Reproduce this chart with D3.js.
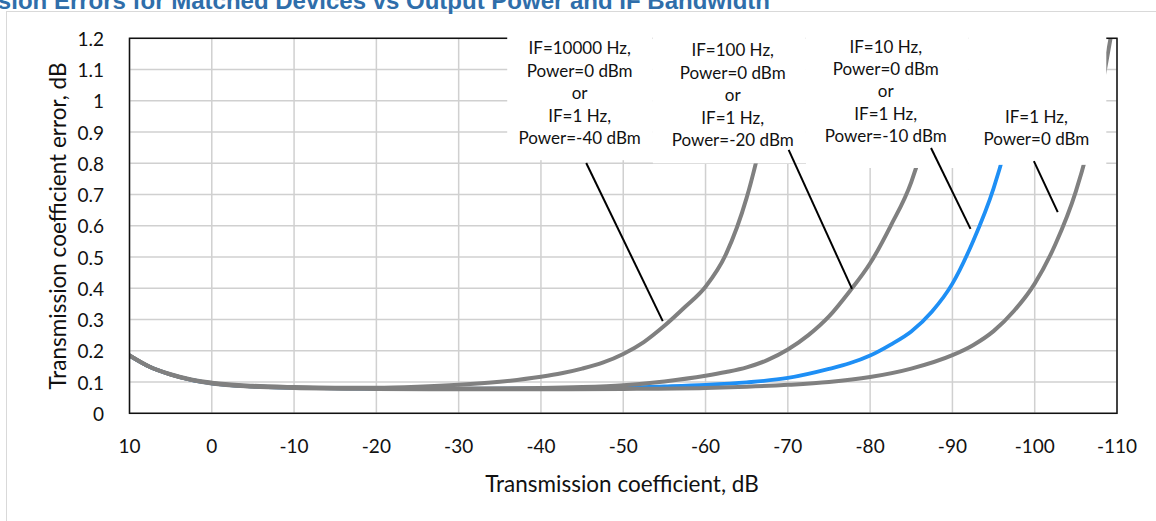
<!DOCTYPE html>
<html>
<head>
<meta charset="utf-8">
<script src="https://cdn.jsdelivr.net/npm/d3@7"></script>
<style>
  html, body { margin: 0; padding: 0; background: #fff; }
  svg { display: block; font-family: Lato, "Open Sans", sans-serif; }
</style>
</head>
<body>
<svg id="chart" width="1156" height="521"></svg>
<script>
// ── Data ────────────────────────────────────────────────────────────────────

const title = "Transmission Errors for Matched Devices vs Output Power and IF Bandwidth";
const xLabel = "Transmission coefficient, dB";
const yLabel = "Transmission coefficient error, dB";

const xTicks = [10, 0, -10, -20, -30, -40, -50, -60, -70, -80, -90, -100, -110];
const yTicks = [0, 0.1, 0.2, 0.3, 0.4, 0.5, 0.6, 0.7, 0.8, 0.9, 1, 1.1, 1.2];

// [transmission coefficient dB, error dB]
const curveIF10000 = [[10,.185],[7.5,.148],[5,.125],[2.5,.108],[0,.098],[-5,.088],[-10,.084],[-15,.082],
  [-20,.082],[-25,.085],[-30,.091],[-35,.101],[-40,.117],[-42.5,.128],[-45,.143],[-47.5,.162],[-50,.19],
  [-52.5,.228],[-55,.28],[-57.5,.34],[-60,.405],[-62.5,.51],[-65,.69],[-67.5,.96],[-70,1.3]];

const curveIF100 = [[10,.185],[7.5,.148],[5,.124],[2.5,.107],[0,.096],[-5,.086],[-10,.082],[-15,.08],
  [-20,.079],[-30,.079],[-40,.081],[-45,.084],[-50,.09],[-55,.102],[-60,.12],[-62.5,.132],[-65,.147],
  [-67.5,.17],[-70,.204],[-72.5,.25],[-75,.31],[-77.5,.39],[-80,.48],[-82.5,.60],[-85,.74],[-87.5,.97],[-90,1.3]];

const curveIF10 = [[10,.185],[7.5,.148],[5,.124],[2.5,.107],[0,.096],[-5,.086],[-10,.082],[-20,.079],
  [-30,.078],[-40,.079],[-50,.082],[-55,.086],[-60,.091],[-65,.099],[-70,.113],[-75,.142],[-77.5,.16],
  [-80,.185],[-82.5,.22],[-85,.262],[-87.5,.325],[-90,.415],[-92.5,.55],[-95,.72],[-97.5,.96],[-100,1.3]];

const curveIF1 = [[10,.185],[7.5,.148],[5,.124],[2.5,.107],[0,.095],[-5,.085],[-10,.081],[-20,.078],
  [-30,.077],[-40,.077],[-50,.078],[-60,.081],[-65,.085],[-70,.091],[-75,.1],[-80,.116],[-85,.143],
  [-90,.186],[-92.5,.218],[-95,.263],[-97.5,.328],[-100,.415],[-102.5,.54],[-105,.71],[-107.5,.96],[-110,1.32]];

// callouts: text lines, centre (dB), first-line level, box [dB from, dB to, top, bottom], leader
const calloutLines = [
  ["IF=10000 Hz,", "Power=0 dBm", "or", "IF=1 Hz,", "Power=-40 dBm"],
  ["IF=100 Hz,", "Power=0 dBm", "or", "IF=1 Hz,", "Power=-20 dBm"],
  ["IF=10 Hz,", "Power=0 dBm", "or", "IF=1 Hz,", "Power=-10 dBm"],
  ["IF=1 Hz,", "Power=0 dBm"]
];
const calloutAnchor = [[-44.7, 1.169], [-63.3, 1.163], [-81.9, 1.175], [-100.2, 0.951]];
const calloutBox = [[-35.9, -53.6, 1.235, 0.81], [-53.6, -72.2, 1.235, 0.80],
                    [-72.2, -91.9, 1.235, 0.785], [-91.9, -108.7, 1.235, 0.795]];
const calloutLeader = [[[-45.5, 0.801], [-54.8, 0.295]], [[-70.1, 0.843], [-77.8, 0.398]],
                       [[-87.4, 0.849], [-92.2, 0.59]], [[-99.9, 0.807], [-102.8, 0.644]]];

// ── Layout ──────────────────────────────────────────────────────────────────

const svg = d3.select("#chart");
const plot = { left: 129.5, right: 1117, top: 38.3, bottom: 413.3 };

const x = d3.scaleLinear().domain([10, -110]).range([plot.left, plot.right]);
const y = d3.scaleLinear().domain([0, 1.2]).range([plot.bottom, plot.top]);

// outer frame + title
svg.append("rect")
  .attr("x", 6.5).attr("y", 11.5).attr("width", 1200).attr("height", 600)
  .attr("fill", "none").attr("stroke", "#d9d9d9").attr("stroke-width", 1);

svg.append("text")
  .attr("x", 770).attr("y", 9)
  .attr("text-anchor", "end")
  .style("font-family", "'Liberation Sans', Arial, sans-serif")
  .style("font-weight", "bold").style("font-size", "24px")
  .attr("fill", "#2f6eaa")
  .text(title);

// grid
const grid = svg.append("g").attr("stroke", "#d0d0d0").attr("stroke-width", 1.5);
grid.selectAll(".vg").data(xTicks).enter().append("line")
  .attr("x1", d => x(d)).attr("x2", d => x(d))
  .attr("y1", plot.top).attr("y2", plot.bottom);
grid.selectAll(".hg").data(yTicks).enter().append("line")
  .attr("x1", plot.left).attr("x2", plot.right)
  .attr("y1", d => y(d)).attr("y2", d => y(d));

// curves
svg.append("clipPath").attr("id", "clip").append("rect")
  .attr("x", plot.left).attr("y", plot.top)
  .attr("width", plot.right - plot.left).attr("height", plot.bottom - plot.top);

const line = d3.line().x(d => x(d[0])).y(d => y(d[1])).curve(d3.curveMonotoneX);
const curves = svg.append("g").attr("clip-path", "url(#clip)").attr("fill", "none")
  .attr("stroke-linecap", "round");

curves.append("path").datum(curveIF10).attr("d", line)
  .attr("stroke", "#1e8ff5").attr("stroke-width", 3.8);
[curveIF10000, curveIF100, curveIF1].forEach(c => {
  curves.append("path").datum(c).attr("d", line)
    .attr("stroke", "#808080").attr("stroke-width", 4);
});

// plot border
svg.append("rect")
  .attr("x", plot.left).attr("y", plot.top)
  .attr("width", plot.right - plot.left).attr("height", plot.bottom - plot.top)
  .attr("fill", "none").attr("stroke", "#111").attr("stroke-width", 1.5);

// axis tick labels
svg.append("g").selectAll("text").data(xTicks).enter().append("text")
  .attr("x", d => x(d)).attr("y", 445)
  .attr("text-anchor", "middle").attr("dominant-baseline", "central")
  .style("font-size", "19px").attr("fill", "#111")
  .text(d => d);

svg.append("g").selectAll("text").data(yTicks).enter().append("text")
  .attr("x", 104).attr("y", d => y(d))
  .attr("text-anchor", "end").attr("dominant-baseline", "central")
  .style("font-size", "19px").attr("fill", "#111")
  .text(d => d3.format("~g")(d));

svg.append("text")
  .attr("x", 622).attr("y", 483)
  .attr("text-anchor", "middle").attr("dominant-baseline", "central")
  .style("font-size", "22.5px").attr("fill", "#111")
  .text(xLabel);

svg.append("text")
  .attr("transform", "translate(57,226) rotate(-90)")
  .attr("text-anchor", "middle").attr("dominant-baseline", "central")
  .style("font-size", "22.5px").attr("fill", "#111")
  .text(yLabel);

// callouts
const callouts = svg.append("g");
calloutBox.forEach(b => {
  callouts.append("rect")
    .attr("x", x(b[0])).attr("y", y(b[2]))
    .attr("width", x(b[1]) - x(b[0])).attr("height", y(b[3]) - y(b[2]))
    .attr("fill", "#fff");
});
calloutLines.forEach((lines, i) => {
  const [cx, cy] = calloutAnchor[i];
  callouts.append("g").selectAll("text").data(lines).enter().append("text")
    .attr("x", x(cx)).attr("y", (d, j) => y(cy) + j * 22.4)
    .attr("text-anchor", "middle").attr("dominant-baseline", "central")
    .style("font-size", "17px").attr("fill", "#111")
    .text(d => d);
});
calloutLeader.forEach(l => {
  callouts.append("line")
    .attr("x1", x(l[0][0])).attr("y1", y(l[0][1]))
    .attr("x2", x(l[1][0])).attr("y2", y(l[1][1]))
    .attr("stroke", "#000").attr("stroke-width", 2);
});
</script>
</body>
</html>
